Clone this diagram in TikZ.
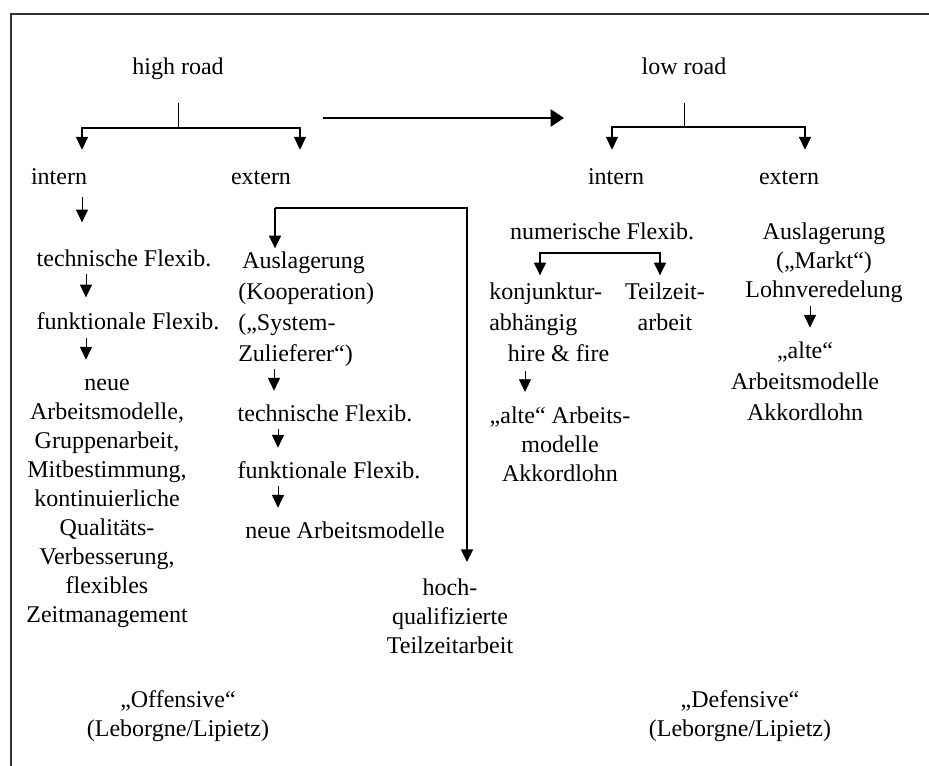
\documentclass[tikz,border=0pt]{standalone}
\usepackage{fontspec}
\setmainfont{Liberation Serif}
\usetikzlibrary{arrows.meta}
\newcommand\tstrut{\rule{0pt}{13pt}}
\newcommand\bstrut{\rule[-4pt]{0pt}{4pt}}

\begin{document}
\begin{tikzpicture}[x=0.75pt,y=-0.75pt,font=\fontsize{18}{21.75}\selectfont]
    \tikzstyle{word}=[inner sep=0pt,anchor=north,text height=13pt,text depth=4pt]
    \tikzstyle{block}=[inner sep=0pt,anchor=north,align=center]
    \tikzstyle{wide}=[font=\fontsize{18}{23.25}\selectfont]
    \tikzstyle{stem}=[line width=0.6pt]
    \tikzstyle{flow}=[line width=0.6pt,-{Triangle[length=9.5pt,width=9pt]}]
    \tikzstyle{split}=[line width=1.1pt,-{Triangle[length=9.5pt,width=9pt]}]

    \useasboundingbox (0,0) rectangle (929,766);
    \draw[line width=0.8pt,black!80] (11,766) -- (11,14) -- (929,14);

    \node[word](hr) at (178,57){high road};
    \node[word](lr) at (684,57){low road};
    \node[word](hint) at (59,167){intern};
    \node[word](hext) at (261,167){extern};
    \node[word](lint) at (616,167){intern};
    \node[word](lext) at (789,167){extern};

    \node[word](htech) at (124,249){technische Flexib.};
    \node[word](hfunk) at (128,312){funktionale Flexib.};
    \node[block](hneu) at (107,373){\tstrut neue\\Arbeitsmodelle,\\Gruppenarbeit,\\Mitbestimmung,\\kontinuierliche\\Qualitäts-\\Verbesserung,\\flexibles\\Zeitmanagement};
    \node[block,wide,anchor=north west,align=left](haus) at (238,251){\tstrut\,Auslagerung\\(Kooperation)\\(„System-\\Zulieferer“)\bstrut};
    \node[word](htech2) at (325,404){technische Flexib.};
    \node[word](hfunk2) at (329,461){funktionale Flexib.};
    \node[word](hneu2) at (345,521){neue Arbeitsmodelle};
    \node[block](hteil) at (450,578){\tstrut hoch-\\qualifizierte\\Teilzeitarbeit};
    \node[block](off) at (178,690){\tstrut „Offensive“\\(Leborgne/Lipietz)};
    \node[block](def) at (740,690){\tstrut „Defensive“\\(Leborgne/Lipietz)};

    \node[word](lnum) at (602,222){numerische Flexib.};
    \node[block,wide,anchor=north west,align=left](lkon) at (489,282){\tstrut konjunktur-\\abhängig\\\hspace*{14pt}hire \& fire\bstrut};
    \node[block,wide](lteil) at (665,282){\tstrut Teilzeit-\\arbeit};
    \node[block](lalt) at (560,406){\tstrut „alte“ Arbeits-\\modelle\\Akkordlohn};
    \node[block](laus) at (824,222){\tstrut Auslagerung\\(„Markt“)\\Lohnveredelung\bstrut};
    \node[block,wide](lalt2) at (805,341){\tstrut „alte“\\Arbeitsmodelle\\Akkordlohn};

    % splits below the two roads
    \coordinate (hrsplit) at (178,128);
    \coordinate (lrsplit) at (684,127);
    \draw[stem,shorten <=17pt] (hr.south) -- (hrsplit);
    \draw[split,shorten >=13pt] (hrsplit) -| (82,0 |- hint.north);
    \draw[split,shorten >=13pt] (hrsplit) -| (300,0 |- hext.north);
    \draw[stem,shorten <=17pt] (lr.south) -- (lrsplit);
    \draw[split,shorten >=13pt] (lrsplit) -| (612,0 |- lint.north);
    \draw[split,shorten >=13pt] (lrsplit) -| (805,0 |- lext.north);

    \coordinate (shiftA) at (323,118);
    \coordinate (shiftB) at (564,118);
    \draw[line width=1.1pt,-{Triangle[length=10pt,width=13pt]}] (shiftA) -- (shiftB);

    % high road, intern
    \draw[flow,shorten <=5pt,shorten >=20pt] (82,0 |- hint.south) -- (82,0 |- htech.north);
    \draw[flow,shorten <=1pt,shorten >=11pt] (86,0 |- htech.south) -- (86,0 |- hfunk.north);
    \draw[flow,shorten <=2pt,shorten >=10pt] (86,0 |- hfunk.south) -- (86,0 |- hneu.north);

    % high road, extern
    \coordinate (hfork) at (275,208);
    \draw[split,shorten >=2pt] (hfork) -- (hfork |- haus.north);
    \draw[split,shorten >=12pt] (hfork) -| (467,0 |- hteil.north);
    \draw[flow,shorten <=1pt,shorten >=10pt] (274,0 |- haus.south) -- (274,0 |- htech2.north);
    \draw[flow,shorten <=1pt,shorten >=10pt] (278,0 |- htech2.south) -- (278,0 |- hfunk2.north);
    \draw[flow,shorten <=1.5pt,shorten >=10pt] (278,0 |- hfunk2.south) -- (278,0 |- hneu2.north);

    % low road
    \coordinate (lnsplit) at (600,253);
    \draw[split,shorten >=5pt] (lnsplit) -| (540,0 |- lkon.north);
    \draw[split,shorten >=5pt] (lnsplit) -| (660,0 |- lteil.north);
    \draw[flow,shorten <=2.5pt,shorten >=10.5pt] (525,0 |- lkon.south) -- (525,0 |- lalt.north);
    \draw[flow,shorten <=2pt,shorten >=10pt] (810,0 |- laus.south) -- (810,0 |- lalt2.north);
\end{tikzpicture}
\end{document}
